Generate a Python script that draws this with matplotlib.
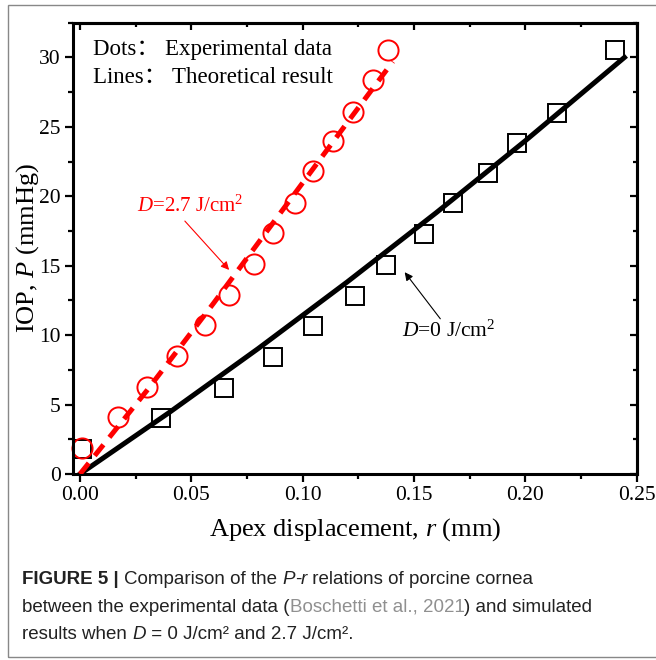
import matplotlib
matplotlib.use('Agg')
import matplotlib.pyplot as plt
from matplotlib.patches import Rectangle
from matplotlib.ticker import MultipleLocator

plt.rcParams['font.family'] = ['Liberation Serif', 'Noto Sans CJK SC']
plt.rcParams['mathtext.fontset'] = 'custom'
plt.rcParams['mathtext.rm'] = 'Liberation Serif'
plt.rcParams['mathtext.it'] = 'Liberation Serif:italic'

r_red = [0.0007, 0.017, 0.030, 0.0434, 0.056, 0.0671, 0.0783, 0.0868, 0.0967,
         0.1047, 0.1135, 0.1227, 0.1318, 0.1383]
p_red = [1.9, 4.1, 6.3, 8.5, 10.7, 12.9, 15.1, 17.35, 19.5, 21.8, 24.0, 26.1,
         28.35, 30.55]
r_blk = [0.0007, 0.0363, 0.0648, 0.0868, 0.1047, 0.1234, 0.1374, 0.1543,
         0.1674, 0.1833, 0.1964, 0.2142, 0.2404]
p_blk = [1.8, 4.0, 6.2, 8.45, 10.65, 12.85, 15.05, 17.3, 19.5, 21.7, 23.85,
         26.0, 30.5]

# theoretical curves
fit_r_red = [0.0, 0.03, 0.06, 0.09, 0.12, 0.1405]
fit_p_red = [0.0, 6.0, 12.3, 18.8, 25.3, 29.7]
fit_r_blk = [0.0, 0.04, 0.08, 0.12, 0.16, 0.2, 0.2445]
fit_p_blk = [0.0, 4.42, 9.03, 13.83, 18.82, 24.0, 30.0]

W, H = 656, 660
fig = plt.figure(figsize=(W / 100, H / 100), dpi=100)
ax = fig.add_axes([73.3 / W, 1 - 474 / H, (636.7 - 73.3) / W, (474 - 22.7) / H])

ax.plot(r_blk, p_blk, 's', ms=13, mfc='none', mec='black', mew=1.4, clip_on=False, zorder=2)
ax.plot(r_red, p_red, 'o', ms=14.5, mfc='none', mec='red', mew=1.4, clip_on=False, zorder=2)
ax.plot(fit_r_blk, fit_p_blk, '-', color='black', lw=3.6, zorder=3)
ax.plot(fit_r_red, fit_p_red, '--', color='red', lw=3.6, dashes=(2.8, 1.9), zorder=3)

ax.set_xlim(-0.003, 0.25)
ax.set_ylim(0, 32.5)
ax.xaxis.set_major_locator(MultipleLocator(0.05))
ax.xaxis.set_minor_locator(MultipleLocator(0.025))
ax.yaxis.set_major_locator(MultipleLocator(5))
ax.yaxis.set_minor_locator(MultipleLocator(2.5))
ax.xaxis.set_major_formatter(lambda v, pos: f'{v:.2f}')
ax.tick_params(which='both', direction='out', width=1.6, labelsize=15.5)
ax.tick_params(which='major', length=6)
ax.tick_params(which='minor', length=3.5)
ax.tick_params(axis='x', pad=3)
ax.tick_params(axis='y', pad=3)
for s in ax.spines.values():
    s.set_linewidth(2.2)

secx = ax.secondary_xaxis('top')
secx.xaxis.set_major_locator(MultipleLocator(0.05))
secx.xaxis.set_minor_locator(MultipleLocator(0.025))
secx.tick_params(which='both', direction='in', width=1.6, labeltop=False)
secx.tick_params(which='major', length=5)
secx.tick_params(which='minor', length=3)
secx.spines['top'].set_linewidth(2.2)
secy = ax.secondary_yaxis('right')
secy.yaxis.set_major_locator(MultipleLocator(5))
secy.yaxis.set_minor_locator(MultipleLocator(2.5))
secy.tick_params(which='both', direction='in', width=1.6, labelright=False)
secy.tick_params(which='major', length=5)
secy.tick_params(which='minor', length=3)
secy.spines['right'].set_linewidth(2.2)

ax.set_xlabel('Apex displacement, $r$ (mm)', fontsize=19, labelpad=8)
ax.set_ylabel('IOP, $P$ (mmHg)', fontsize=19, labelpad=-1)

fig.text(93 / W, 1 - 49 / H, 'Dots： Experimental data', fontsize=16.5, va='center')
fig.text(93 / W, 1 - 77 / H, 'Lines： Theoretical result', fontsize=16.5, va='center')

fig.text(137 / W, 1 - 206 / H, '$D$=2.7 J/cm$^2$', fontsize=15, color='red', va='center')
ax.annotate('', xy=(231, H - 272), xycoords='figure pixels', xytext=(183, H - 219),
            textcoords='figure pixels',
            arrowprops=dict(arrowstyle='-|>', color='red', lw=0.8, mutation_scale=12))
fig.text(402 / W, 1 - 331 / H, '$D$=0 J/cm$^2$', fontsize=15.5, color='black', va='center')
ax.annotate('', xy=(403, H - 270), xycoords='figure pixels', xytext=(442, H - 321),
            textcoords='figure pixels',
            arrowprops=dict(arrowstyle='-|>', color='black', lw=0.8, mutation_scale=12))

# caption
cap = dict(family=['Liberation Sans'], fontsize=13.5)
nrm = dict(cap, color='#222222')
bld = dict(nrm, weight='bold')
itl = dict(nrm, style='italic')
gry = dict(cap, color='#909090')
lines = [
    [('FIGURE 5 | ', bld), ('Comparison of the ', nrm), ('P', itl), ('-', nrm),
     ('r', itl), (' relations of porcine cornea', nrm)],
    [('between the experimental data (', nrm), ('Boschetti et al., 2021', gry),
     (') and simulated', nrm)],
    [('results when ', nrm), ('D', itl), (' = 0 J/cm² and 2.7 J/cm².', nrm)],
]
for i, pieces in enumerate(lines):
    y = H - 584 - i * 27.5
    t = ax.annotate(pieces[0][0], xy=(22, y), xycoords='figure pixels',
                    va='baseline', ha='left', **pieces[0][1])
    for s, kw in pieces[1:]:
        t = ax.annotate(s, xy=(1, 0), xycoords=t, va='bottom', ha='left', **kw)

fig.patches.append(Rectangle((8 / W, 3 / H), 1, 652 / H, transform=fig.transFigure,
                             fill=False, ec='#888888', lw=1))

fig.savefig('out.png', dpi=100)
